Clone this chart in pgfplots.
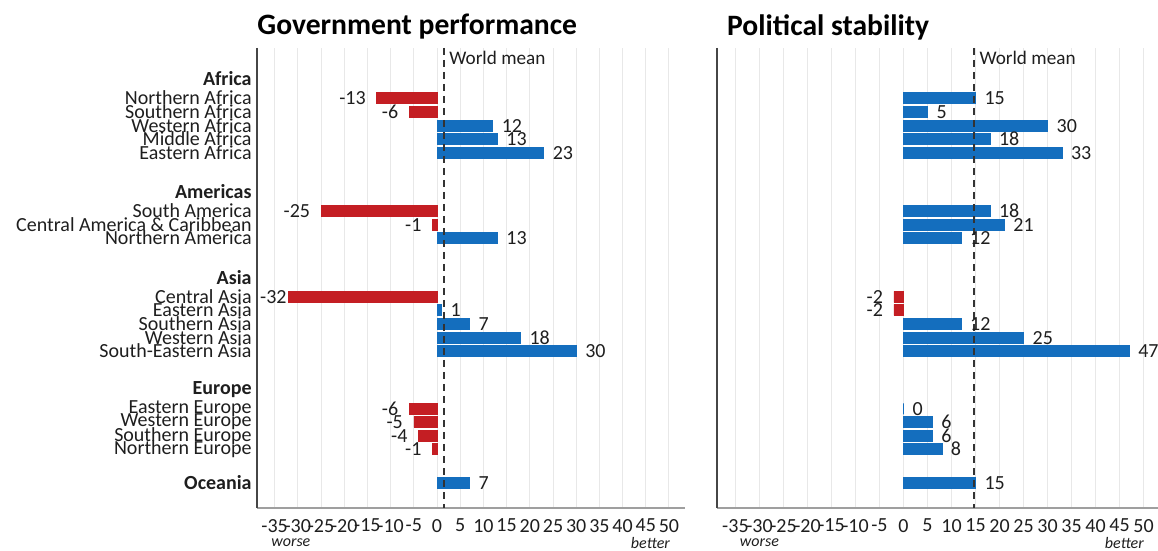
\documentclass[border=0pt]{standalone}
\usepackage{pgfplots}
\pgfplotsset{compat=1.18}
\usepackage{fontspec}
\setmainfont{Carlito}
\definecolor{negred}{RGB}{196,30,35}
\definecolor{posblue}{RGB}{20,110,190}
\definecolor{txt}{RGB}{30,30,30}
\pgfkeys{/pgf/number format/assume math mode=true}
\newcommand{\lab}{\fontsize{10}{11}\selectfont}
\newcommand{\tlab}{\fontsize{10}{11}\selectfont}

\pgfplotsset{
  panel/.style={
    scale only axis,
    height=230pt,
    y dir=reverse, ymin=48, ymax=508,
    clip=false,
    axis x line*=bottom, axis y line*=left,
    x axis line style={-, draw=gray!75, line width=0.8pt},
    y axis line style={-, draw=gray!55!black, line width=1pt},
    xtick={-35,-30,...,50},
    xmajorgrids, grid style={gray!18, line width=0.5pt},
    major tick length=0pt,
    xticklabel style={font=\tlab, text=txt, yshift=-2pt},
    yticklabel style={font=\lab, text=txt, inner sep=2.5pt},
  },
  negbar/.style={xbar, bar width=11, bar shift=0pt,
    fill=negred, draw=negred, line width=0.3pt,
    nodes near coords,
    every node near coord/.append style={font=\lab, text=txt, anchor=east, xshift=-2pt}},
  posbar/.style={xbar, bar width=11, bar shift=0pt,
    fill=posblue, draw=posblue, line width=0.4pt,
    nodes near coords,
    every node near coord/.append style={font=\lab, text=txt, anchor=west, xshift=1pt}},
  mean/.style={black!80, line width=1pt, dash pattern=on 3.5pt off 2.5pt, no marks, forget plot},
}

\begin{document}
\begin{tikzpicture}
\useasboundingbox (0,0) rectangle (579pt,275.5pt);

% ---------------- Government performance ----------------
\begin{axis}[panel,
  at={(128.5pt,21.5pt)}, anchor=south west,
  width=214pt, xmin=-38.8, xmax=53.45,
  ytick={79,98,112,126,139,153,192,211,225,238,278,297,310,324,338,351,390,409,422,436,449,483},
  yticklabels={\textbf{Africa},Northern Africa,Southern Africa,Western Africa,Middle Africa,Eastern Africa,
    \textbf{Americas},South America,Central America \& Caribbean,Northern America,
    \textbf{Asia},Central Asia,Eastern Asia,Southern Asia,Western Asia,South-Eastern Asia,
    \textbf{Europe},Eastern Europe,Western Europe,Southern Europe,Northern Europe,
    \textbf{Oceania}},
]
\addplot[negbar] coordinates {(-13,98) (-6,112) (-25,211) (-1,225) (-6,409) (-5,422) (-4,436) (-1,449)};
\addplot[negbar, every node near coord/.append style={xshift=4.5pt}] coordinates {(-32,297)};
\addplot[posbar] coordinates {(12,126) (13,139) (23,153) (13,238) (1,310) (7,324) (18,338) (30,351) (7,483)};
\addplot[mean] coordinates {(1.5,48) (1.5,508)};
\node[anchor=west, font=\fontsize{9.6}{10}\selectfont, text=txt, inner sep=1pt, xshift=1.5pt] at (axis cs:1.5,58) {World mean};
\node[anchor=west, font=\bfseries\fontsize{14.8}{16}\selectfont, text=black, inner sep=0pt] at (axis cs:-38.8,27) {Government performance};
\node[font=\itshape\fontsize{8}{8}\selectfont, text=txt, inner sep=0pt] at (axis cs:-31.5,543) {worse};
\node[font=\itshape\fontsize{8}{8}\selectfont, text=txt, inner sep=0pt] at (axis cs:46,543) {better};
\end{axis}

% ---------------- Political stability ----------------
\begin{axis}[panel,
  at={(358.5pt,21.5pt)}, anchor=south west,
  width=220.5pt, xmin=-38.84, xmax=53,
  ytick=\empty,
]
\addplot[negbar] coordinates {(-2,297) (-2,310)};
\addplot[posbar] coordinates {(15,98) (5,112) (30,126) (18,139) (33,153) (18,211) (21,225) (12,238) (12,324) (25,338) (47,351) (0,409) (6,422) (6,436) (8,449) (15,483)};
\addplot[mean] coordinates {(14.7,48) (14.7,508)};
\node[anchor=west, font=\fontsize{9.6}{10}\selectfont, text=txt, inner sep=1pt, xshift=1.5pt] at (axis cs:14.7,58) {World mean};
\node[anchor=west, font=\bfseries\fontsize{14.8}{16}\selectfont, text=black, inner sep=0pt] at (axis cs:-36.8,27) {Political stability};
\node[font=\itshape\fontsize{8}{8}\selectfont, text=txt, inner sep=0pt] at (axis cs:-30,543) {worse};
\node[font=\itshape\fontsize{8}{8}\selectfont, text=txt, inner sep=0pt] at (axis cs:46,543) {better};
\end{axis}
\end{tikzpicture}
\end{document}
